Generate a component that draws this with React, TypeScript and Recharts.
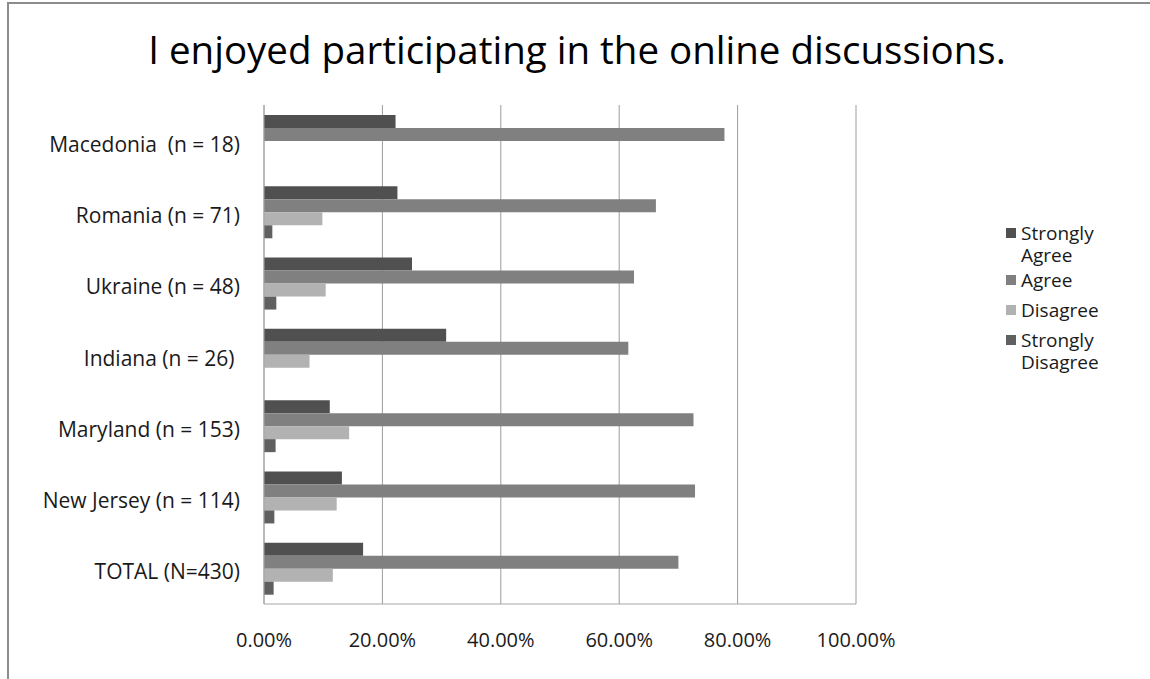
import { BarChart, Bar, XAxis, YAxis, CartesianGrid } from 'recharts'

const categories = [
  'Macedonia  (n = 18)',
  'Romania (n = 71)',
  'Ukraine (n = 48)',
  'Indiana (n = 26) ',
  'Maryland (n = 153)',
  'New Jersey (n = 114)',
  'TOTAL (N=430)',
]
const stronglyAgree = [0.2222, 0.2254, 0.25, 0.3077, 0.1111, 0.1316, 0.1674]
const agree = [0.7778, 0.662, 0.625, 0.6154, 0.7255, 0.7281, 0.7]
const disagree = [0, 0.0986, 0.1042, 0.0769, 0.1438, 0.1228, 0.1163]
const stronglyDisagree = [0, 0.0141, 0.0208, 0, 0.0196, 0.0175, 0.0163]
const xTicks = [0, 0.2, 0.4, 0.6, 0.8, 1]

const series = [
  { key: 'sa', name: 'Strongly Agree', color: '#505050' },
  { key: 'a', name: 'Agree', color: '#808080' },
  { key: 'd', name: 'Disagree', color: '#b2b2b2' },
  { key: 'sd', name: 'Strongly Disagree', color: '#606060' },
]

const FONT = '"Open Sans", sans-serif'

const data = categories.map((name, i) => ({
  name,
  sa: stronglyAgree[i],
  a: agree[i],
  d: disagree[i],
  sd: stronglyDisagree[i],
}))

function CategoryTick({ x, y, payload }: any) {
  return (
    <text
      x={x}
      y={y}
      dy={3}
      textAnchor="end"
      dominantBaseline="central"
      fontSize={21}
      fill="#1a1a1a"
      style={{ whiteSpace: 'pre', fontFamily: FONT }}
    >
      {payload.value}
    </text>
  )
}

export default function App() {
  return (
    <div style={{ position: 'absolute', left: 0, top: 0, width: 1150, height: 679, background: '#fff', fontFamily: FONT }}>
      <div
        style={{
          position: 'absolute',
          left: 7,
          top: 2,
          right: 0,
          bottom: 0,
          borderTop: '2px solid #8c8c8c',
          borderLeft: '2px solid #8c8c8c',
        }}
      />
      <div
        style={{
          position: 'absolute',
          left: 0,
          top: 23,
          width: 1154,
          textAlign: 'center',
          fontSize: 38.5,
          color: '#000',
          lineHeight: '52px',
        }}
      >
        I enjoyed participating in the online discussions.
      </div>
      <div style={{ position: 'absolute', left: 0, top: 0 }}>
        <BarChart
          width={1150}
          height={679}
          data={data}
          layout="vertical"
          margin={{ top: 105, right: 294, bottom: 35, left: 0 }}
          barGap={0}
          barSize={13}
        >
          <CartesianGrid horizontal={false} stroke="#9c9c9c" />
          <XAxis
            type="number"
            domain={[0, 1]}
            ticks={xTicks}
            height={40}
            tickLine={false}
            tickSize={0}
            tickMargin={29}
            axisLine={{ stroke: '#a6a6a6' }}
            tick={{ fontSize: 20, fill: '#1a1a1a', fontFamily: FONT }}
            tickFormatter={(v: number) => `${(v * 100).toFixed(2)}%`}
          />
          <YAxis
            type="category"
            dataKey="name"
            width={264}
            tickLine={false}
            tickSize={0}
            tickMargin={24}
            axisLine={{ stroke: '#a6a6a6' }}
            tick={<CategoryTick />}
            interval={0}
          />
          {series.map((s) => (
            <Bar key={s.key} dataKey={s.key} name={s.name} fill={s.color} isAnimationActive={false} />
          ))}
        </BarChart>
      </div>
      <div style={{ position: 'absolute', left: 1006, top: 222, width: 140, fontSize: 19, lineHeight: '22px', color: '#1a1a1a' }}>
        {series.map((s, i) => (
          <div key={s.key} style={{ display: 'flex', alignItems: 'flex-start', marginBottom: i === 0 ? 3 : 8 }}>
            <span style={{ display: 'inline-block', width: 10, height: 10, background: s.color, marginTop: 6, marginRight: 5, flexShrink: 0 }} />
            <span style={{ width: 100 }}>{s.name}</span>
          </div>
        ))}
      </div>
    </div>
  )
}
